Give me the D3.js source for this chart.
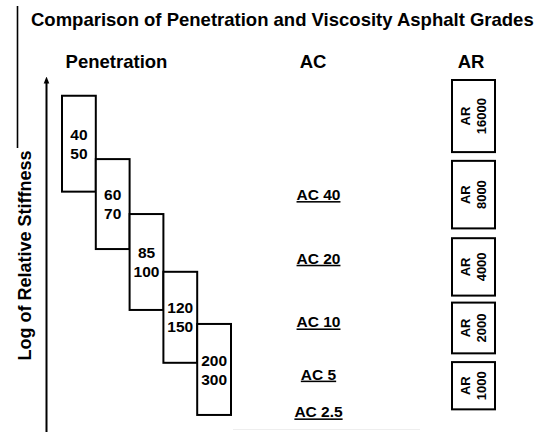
<!DOCTYPE html>
<html>
<head>
	<meta charset="utf-8">
	<title>Comparison of Penetration and Viscosity Asphalt Grades</title>
	<style>
		body { margin: 0; background: #fff; }
		svg { display: block; font-family: "Liberation Sans", Arial, sans-serif; font-weight: bold; }
		.box { fill: #fff; stroke: #000; stroke-width: 2px; }
	</style>
	<script src="https://cdn.jsdelivr.net/npm/d3@7"></script>
</head>
<body>
<svg width="544" height="432"></svg>
<script>

	// penetration grades: label lines, top and bottom on the stiffness scale
	var penGrades = ["40-50", "60-70", "85-100", "120-150", "200-300"];
	var penTop    = [95.5, 77.4, 61.7, 45.2, 30.3];
	var penBottom = [68.1, 51.7, 34.3, 19.2, 4.3];

	// viscosity AC grades and their level
	var acGrades = ["AC 40", "AC 20", "AC 10", "AC 5", "AC 2.5"];
	var acLevel  = [67.3, 49.1, 30.9, 16.0, 5.2];

	// viscosity AR grades
	var arGrades = ["16000", "8000", "4000", "2000", "1000"];
	var arTop    = [100, 76.9, 54.8, 36.4, 19.4];
	var arBottom = [79.4, 57.6, 38.4, 21.9, 5.9];

	var columns = ["Penetration", "AC", "AR"];

	var svg = d3.select("svg");

	var y = d3.scaleLinear().domain([0, 100]).range([430, 80]);

	var xPen = d3.scaleBand().domain(penGrades).range([62, 231]).paddingInner(0);

	var xCol = d3.scaleOrdinal().domain(columns).range([116.5, 313, 471]);

	// title
	svg.append("text")
		.attr("x", 31)
		.attr("y", 26)
		.attr("font-size", 18.5)
		.attr("fill", "#000")
		.text("Comparison of Penetration and Viscosity Asphalt Grades");

	// thin left rule
	svg.append("line")
		.attr("x1", 17.5).attr("x2", 17.5)
		.attr("y1", 6).attr("y2", 148)
		.attr("stroke", "#000").attr("stroke-width", 1.6);

	// column headers
	svg.selectAll(".head")
		.data(columns)
		.enter().append("text")
		.attr("class", "head")
		.attr("x", function(d) { return xCol(d); })
		.attr("y", 68)
		.attr("text-anchor", "middle")
		.attr("font-size", 18.5)
		.text(function(d) { return d; });

	// stiffness arrow
	svg.append("defs").append("marker")
		.attr("id", "head")
		.attr("viewBox", "0 0 10 10")
		.attr("refX", 5).attr("refY", 5)
		.attr("markerWidth", 7).attr("markerHeight", 7)
		.attr("markerUnits", "userSpaceOnUse")
		.attr("orient", "auto")
		.append("path")
		.attr("d", "M0,1L10,5L0,9Z")
		.attr("fill", "#000");

	svg.append("line")
		.attr("x1", 46.5).attr("x2", 46.5)
		.attr("y1", 432).attr("y2", 80)
		.attr("stroke", "#000").attr("stroke-width", 2)
		.attr("marker-end", "url(#head)");

	svg.append("text")
		.attr("transform", "translate(30.5," + 255.5 + ") rotate(-90)")
		.attr("text-anchor", "middle")
		.attr("font-size", 18)
		.text("Log of Relative Stiffness");

	// penetration boxes
	var pen = svg.append("g").selectAll("g")
		.data(penGrades)
		.enter().append("g");

	pen.append("rect")
		.attr("class", "box")
		.attr("x", function(d) { return xPen(d); })
		.attr("y", function(d, i) { return y(penTop[i]); })
		.attr("width", xPen.bandwidth())
		.attr("height", function(d, i) { return y(penBottom[i]) - y(penTop[i]); });

	pen.each(function(d, i) {
		var parts = d.split("-");
		var cx = xPen(d) + xPen.bandwidth() / 2;
		var mid = (y(penTop[i]) + y(penBottom[i])) / 2;
		d3.select(this).selectAll("text")
			.data(parts)
			.enter().append("text")
			.attr("x", cx)
			.attr("y", function(p, j) { return mid + (j === 0 ? -9.5 : 9.5) + 5.6; })
			.attr("text-anchor", "middle")
			.attr("font-size", 15.5)
			.text(function(p) { return p; });
	});

	// AC labels
	svg.append("g").selectAll("text")
		.data(acGrades)
		.enter().append("text")
		.attr("x", 318.5)
		.attr("y", function(d, i) { return y(acLevel[i]) + 5.6; })
		.attr("text-anchor", "middle")
		.attr("font-size", 15.5)
		.attr("text-decoration", "underline")
		.text(function(d) { return d; });

	// AR boxes
	var ar = svg.append("g").selectAll("g")
		.data(arGrades)
		.enter().append("g");

	ar.append("rect")
		.attr("class", "box")
		.attr("x", 452)
		.attr("y", function(d, i) { return y(arTop[i]); })
		.attr("width", 43)
		.attr("height", function(d, i) { return y(arBottom[i]) - y(arTop[i]); });

	ar.each(function(d, i) {
		var mid = (y(arTop[i]) + y(arBottom[i])) / 2;
		var t = d3.select(this).append("g")
			.attr("transform", "translate(473.5," + mid + ") rotate(-90)");
		t.append("text")
			.attr("y", -8.5 + 4.6)
			.attr("text-anchor", "middle")
			.attr("font-size", 13)
			.text("AR");
		t.append("text")
			.attr("y", 7.5 + 4.6)
			.attr("text-anchor", "middle")
			.attr("font-size", 13)
			.text(d);
	});

	// faint base rule
	svg.append("line")
		.attr("x1", 233).attr("x2", 420)
		.attr("y1", 429.5).attr("y2", 429.5)
		.attr("stroke", "#eee").attr("stroke-width", 1);

</script>
</body>
</html>
